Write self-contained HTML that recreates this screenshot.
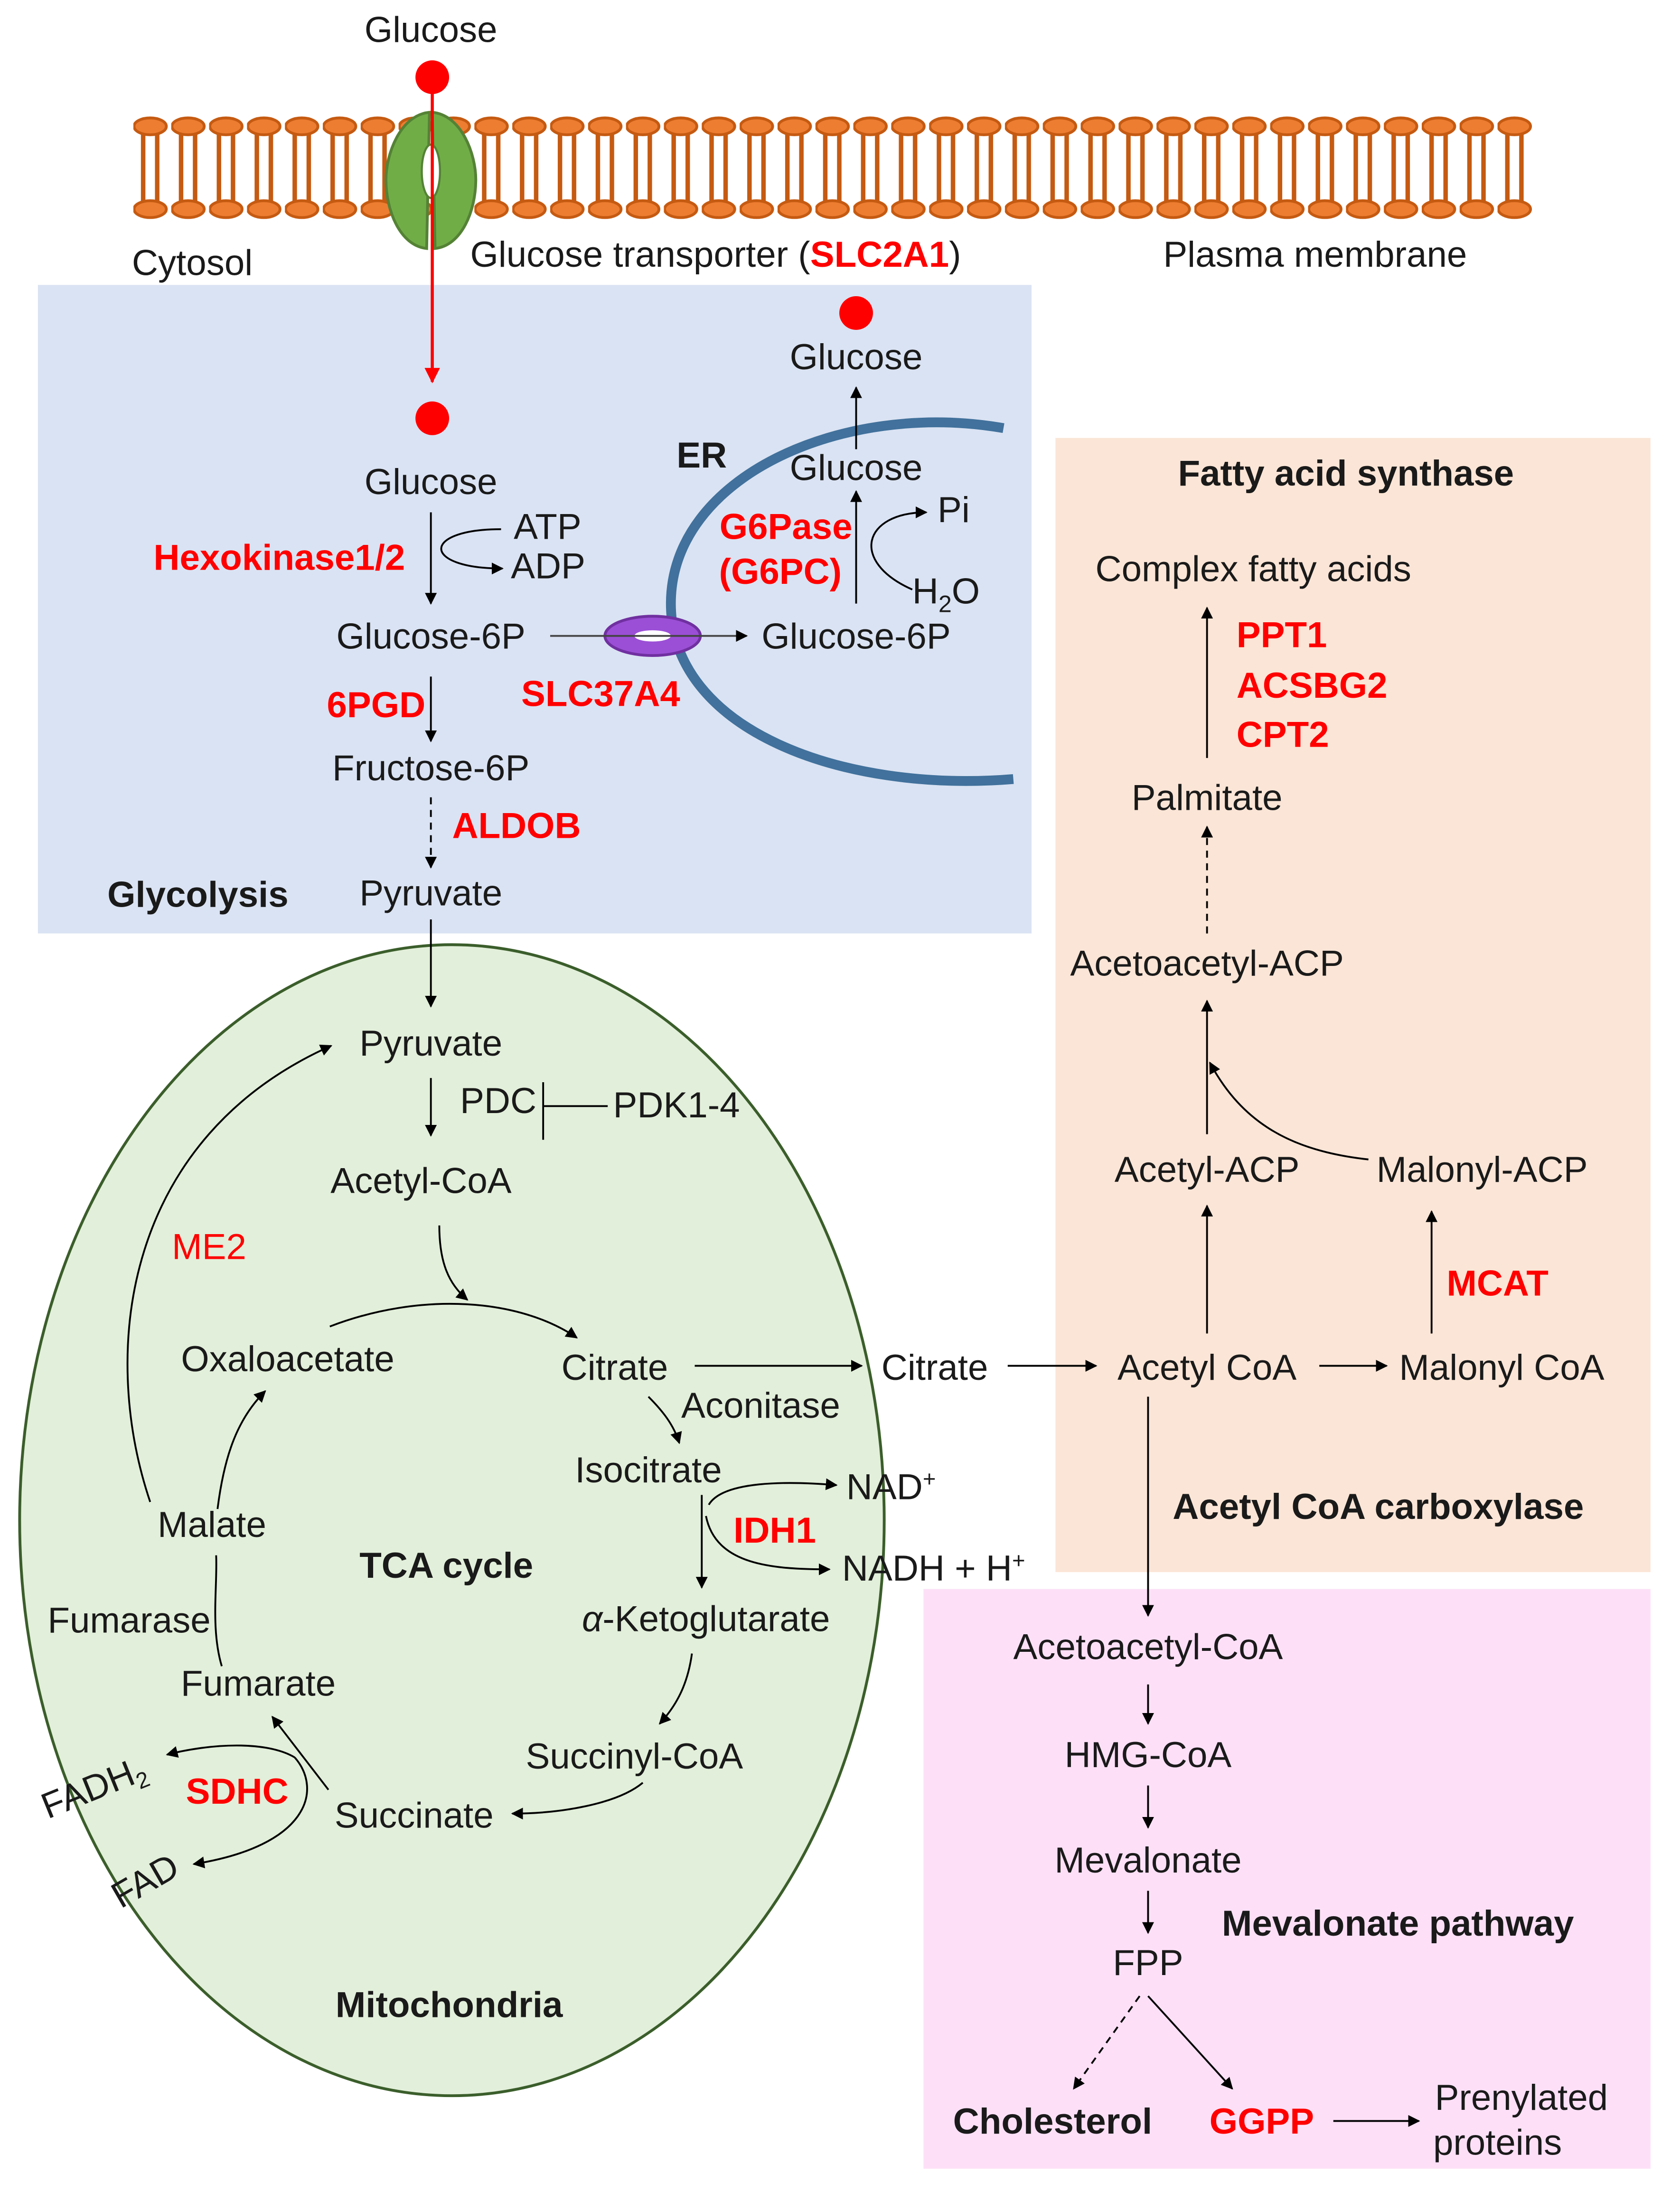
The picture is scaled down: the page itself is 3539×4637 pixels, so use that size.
<!DOCTYPE html>
<html><head><meta charset="utf-8"><style>
html,body{margin:0;padding:0;background:#fff}
svg{display:block}
text{font-family:"Liberation Sans",sans-serif;font-size:25.8px;fill:#1a1a1a}
.b{font-weight:bold}
.r{fill:#ff0000;font-weight:bold}
.m{text-anchor:middle}
</style></head><body>
<svg width="3539" height="4637" viewBox="0 0 1197 1568" preserveAspectRatio="none" xmlns="http://www.w3.org/2000/svg">
<defs>
<marker id="a" viewBox="0 0 10 10" refX="9" refY="5" markerWidth="6.5" markerHeight="6.5" orient="auto"><path d="M0,0L10,5L0,10z" fill="#000"/></marker>
<marker id="ar" viewBox="0 0 10 10" refX="9" refY="5" markerWidth="5" markerHeight="5" orient="auto"><path d="M0,0L10,5L0,10z" fill="#f00"/></marker>
<pattern id="lip" x="95" y="80" width="27" height="80" patternUnits="userSpaceOnUse">
<line x1="7" y1="14" x2="7" y2="66" stroke="#c55a11" stroke-width="3.2"/>
<line x1="17" y1="14" x2="17" y2="66" stroke="#c55a11" stroke-width="3.2"/>
<ellipse cx="12" cy="10" rx="11.5" ry="6" fill="#ed7d31" stroke="#c55a11" stroke-width="2"/>
<ellipse cx="12" cy="69" rx="11.5" ry="6" fill="#ed7d31" stroke="#c55a11" stroke-width="2"/>
</pattern>
</defs>
<rect x="27" y="203" width="708" height="462" fill="#dae3f3"/>
<rect x="752" y="312" width="424" height="808" fill="#fbe5d6"/>
<rect x="658" y="1132" width="518" height="413" fill="#fde0f7"/>
<ellipse cx="322" cy="1083" rx="308" ry="410" fill="#e2efda" stroke="#3b5e2b" stroke-width="2"/>
<rect x="95" y="80" width="999" height="80" fill="url(#lip)"/>
<path d="M306,80 C285,82 275,110 275,128 C275,150 285,175 304,177 Z" fill="#70ad47" stroke="#548235" stroke-width="2"/>
<path d="M308,80 C329,82 339,110 339,128 C339,150 329,175 310,177 Z" fill="#70ad47" stroke="#548235" stroke-width="2"/>
<ellipse cx="307" cy="122" rx="6.5" ry="19" fill="#fff" stroke="#548235" stroke-width="1.5"/>
<circle cx="308" cy="55" r="12" fill="#f00"/>
<line x1="308" y1="60" x2="308" y2="272" stroke="#f00" stroke-width="2.2" marker-end="url(#ar)"/>
<circle cx="308" cy="298" r="12" fill="#f00"/>
<text x="307" y="30" class="m">Glucose</text>
<text x="137" y="196" class="m">Cytosol</text>
<text x="335" y="190">Glucose transporter (<tspan class="r">SLC2A1</tspan>)</text>
<text x="937" y="190" class="m">Plasma membrane</text>
<path d="M715,305 C600,285 478,340 478,430 C478,520 600,565 722,555" fill="none" stroke="#41719c" stroke-width="7"/>
<ellipse cx="465" cy="453" rx="34" ry="14" fill="#9b4fd6" stroke="#7030a0" stroke-width="2"/>
<ellipse cx="465" cy="453" rx="13" ry="4" fill="#fff"/>
<g stroke="#000" stroke-width="1.3" fill="none">
<line x1="392" y1="453" x2="532" y2="453" marker-end="url(#a)" stroke="#444"/>
<line x1="610" y1="320" x2="610" y2="276" marker-end="url(#a)"/>
<line x1="610" y1="430" x2="610" y2="350" marker-end="url(#a)"/>
<path d="M650,420 C605,400 615,365 660,365" marker-end="url(#a)"/>
<line x1="307" y1="365" x2="307" y2="430" marker-end="url(#a)"/>
<path d="M357,377 C300,377 300,405 358,405" marker-end="url(#a)"/>
<line x1="307" y1="482" x2="307" y2="528" marker-end="url(#a)"/>
<line x1="307" y1="568" x2="307" y2="618" stroke-dasharray="5,4" marker-end="url(#a)"/>
<line x1="307" y1="655" x2="307" y2="717" marker-end="url(#a)"/>
<line x1="307" y1="768" x2="307" y2="809" marker-end="url(#a)"/>
<line x1="387" y1="771" x2="387" y2="812"/><line x1="387" y1="788" x2="433" y2="788"/>
<path d="M313,873 C313,900 320,915 333,926" marker-end="url(#a)"/>
<path d="M235,945 C300,920 370,925 411,953" marker-end="url(#a)"/>
<line x1="495" y1="973" x2="614" y2="973" marker-end="url(#a)"/>
<line x1="718" y1="973" x2="781" y2="973" marker-end="url(#a)"/>
<line x1="940" y1="973" x2="988" y2="973" marker-end="url(#a)"/>
<path d="M462,995 C472,1005 480,1015 484,1028" marker-end="url(#a)"/>
<line x1="500" y1="1065" x2="500" y2="1131" marker-end="url(#a)"/>
<path d="M505,1072 C515,1055 560,1055 596,1058" marker-end="url(#a)"/>
<path d="M503,1080 C510,1115 550,1118 591,1118" marker-end="url(#a)"/>
<path d="M493,1178 C490,1200 482,1215 470,1228" marker-end="url(#a)"/>
<path d="M458,1270 C440,1285 400,1292 365,1292" marker-end="url(#a)"/>
<line x1="234" y1="1275" x2="194" y2="1223" marker-end="url(#a)"/>
<path d="M210,1252 C190,1240 150,1242 119,1250" marker-end="url(#a)"/>
<path d="M210,1252 C230,1275 220,1315 138,1328" marker-end="url(#a)"/>
<path d="M158,1187 C150,1160 155,1130 154,1108"/>
<path d="M155,1075 C160,1035 170,1010 189,991" marker-end="url(#a)"/>
<path d="M107,1070 C70,960 90,810 236,745" marker-end="url(#a)"/>
<line x1="860" y1="540" x2="860" y2="433" marker-end="url(#a)"/>
<line x1="860" y1="665" x2="860" y2="589" stroke-dasharray="5,4" marker-end="url(#a)"/>
<line x1="860" y1="808" x2="860" y2="713" marker-end="url(#a)"/>
<path d="M975,826 C920,820 885,800 862,757" marker-end="url(#a)"/>
<line x1="860" y1="950" x2="860" y2="859" marker-end="url(#a)"/>
<line x1="1020" y1="950" x2="1020" y2="863" marker-end="url(#a)"/>
<line x1="818" y1="995" x2="818" y2="1151" marker-end="url(#a)"/>
<line x1="818" y1="1200" x2="818" y2="1228" marker-end="url(#a)"/>
<line x1="818" y1="1272" x2="818" y2="1302" marker-end="url(#a)"/>
<line x1="818" y1="1347" x2="818" y2="1377" marker-end="url(#a)"/>
<line x1="812" y1="1422" x2="765" y2="1488" stroke-dasharray="5,4" marker-end="url(#a)"/>
<line x1="818" y1="1422" x2="878" y2="1488" marker-end="url(#a)"/>
<line x1="950" y1="1511" x2="1011" y2="1511" marker-end="url(#a)"/>
</g>
<circle cx="610" cy="223" r="12" fill="#f00"/>
<text x="610" y="263" class="m">Glucose</text>
<text x="500" y="333" class="m b">ER</text>
<text x="610" y="342" class="m">Glucose</text>
<text x="560" y="384" class="m r">G6Pase</text>
<text x="556" y="416" class="m r">(G6PC)</text>
<text x="668" y="372">Pi</text>
<text x="650" y="430">H<tspan font-size="17" dy="6">2</tspan><tspan dy="-6">O</tspan></text>
<text x="307" y="352" class="m">Glucose</text>
<text x="366" y="384" font-size="22.5">ATP</text>
<text x="364" y="412" font-size="22.5">ADP</text>
<text x="199" y="406" class="m r">Hexokinase1/2</text>
<text x="307" y="462" class="m">Glucose-6P</text>
<text x="610" y="462" class="m">Glucose-6P</text>
<text x="268" y="511" class="m r">6PGD</text>
<text x="428" y="503" class="m r">SLC37A4</text>
<text x="307" y="556" class="m">Fructose-6P</text>
<text x="368" y="597" class="m r">ALDOB</text>
<text x="141" y="646" class="m b">Glycolysis</text>
<text x="307" y="645" class="m">Pyruvate</text>
<text x="307" y="752" class="m">Pyruvate</text>
<text x="355" y="793" class="m">PDC</text>
<text x="482" y="796" class="m">PDK1-4</text>
<text x="300" y="850" class="m">Acetyl-CoA</text>
<text x="149" y="897" class="m" style="fill:#f00">ME2</text>
<text x="205" y="977" class="m">Oxaloacetate</text>
<text x="438" y="983" class="m">Citrate</text>
<text x="666" y="983" class="m">Citrate</text>
<text x="542" y="1010" class="m">Aconitase</text>
<text x="462" y="1056" class="m">Isocitrate</text>
<text x="603" y="1068">NAD<tspan font-size="16" dy="-9">+</tspan></text>
<text x="552" y="1099" class="m r">IDH1</text>
<text x="600" y="1126">NADH + H<tspan font-size="16" dy="-9">+</tspan></text>
<text x="503" y="1162" class="m"><tspan font-style="italic">α</tspan>-Ketoglutarate</text>
<text x="452" y="1260" class="m">Succinyl-CoA</text>
<text x="295" y="1302" class="m">Succinate</text>
<text x="184" y="1208" class="m">Fumarate</text>
<text x="169" y="1285" class="m r">SDHC</text>
<text x="92" y="1163" class="m">Fumarase</text>
<text x="151" y="1095" class="m">Malate</text>
<text x="318" y="1124" class="m b">TCA cycle</text>
<text x="320" y="1437" class="m b">Mitochondria</text>
<text transform="translate(34,1296) rotate(-22)">FADH<tspan font-size="16" dy="5">2</tspan></text>
<text transform="translate(86,1360) rotate(-30)">FAD</text>
<text x="959" y="346" class="m b">Fatty acid synthase</text>
<text x="893" y="414" class="m">Complex fatty acids</text>
<text x="881" y="461" class="r">PPT1</text>
<text x="881" y="497" class="r">ACSBG2</text>
<text x="881" y="532" class="r">CPT2</text>
<text x="860" y="577" class="m">Palmitate</text>
<text x="860" y="695" class="m">Acetoacetyl-ACP</text>
<text x="860" y="842" class="m">Acetyl-ACP</text>
<text x="1056" y="842" class="m">Malonyl-ACP</text>
<text x="1067" y="923" class="m r">MCAT</text>
<text x="860" y="983" class="m">Acetyl CoA</text>
<text x="1070" y="983" class="m">Malonyl CoA</text>
<text x="982" y="1082" class="m b">Acetyl CoA carboxylase</text>
<text x="818" y="1182" class="m">Acetoacetyl-CoA</text>
<text x="818" y="1259" class="m">HMG-CoA</text>
<text x="818" y="1334" class="m">Mevalonate</text>
<text x="996" y="1379" class="m b">Mevalonate pathway</text>
<text x="818" y="1407" class="m">FPP</text>
<text x="750" y="1520" class="m b">Cholesterol</text>
<text x="899" y="1520" class="m r">GGPP</text>
<text x="1084" y="1503" class="m">Prenylated</text>
<text x="1067" y="1535" class="m">proteins</text>
</svg>
</body></html>
